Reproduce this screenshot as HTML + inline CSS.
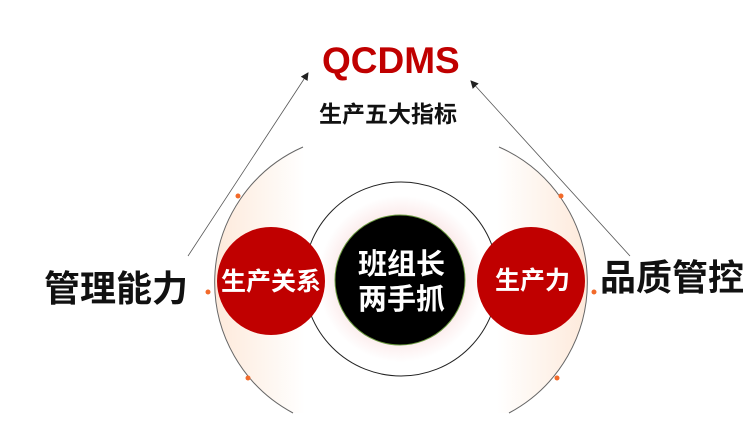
<!DOCTYPE html>
<html><head><meta charset="utf-8"><style>
body{margin:0;width:756px;height:439px;background:#fff;overflow:hidden;position:relative;font-family:"Liberation Sans","Noto Sans CJK SC",sans-serif}
.t{position:absolute;font-weight:bold;white-space:nowrap;line-height:1}
</style></head><body>
<svg width="756" height="439" style="position:absolute;left:0;top:0">
<defs>
<linearGradient id="gl" x1="209" y1="0" x2="305" y2="0" gradientUnits="userSpaceOnUse">
<stop offset="0" stop-color="#fde8d8"/><stop offset="1" stop-color="#fff"/></linearGradient>
<linearGradient id="gr" x1="593" y1="0" x2="497" y2="0" gradientUnits="userSpaceOnUse">
<stop offset="0" stop-color="#fde8d8"/><stop offset="1" stop-color="#fff"/></linearGradient>
<radialGradient id="gm" cx="401" cy="279" r="98" gradientUnits="userSpaceOnUse">
<stop offset="0.6" stop-color="#fbe7e7"/><stop offset="0.85" stop-color="#fff"/></radialGradient>
<marker id="a" markerWidth="8" markerHeight="8" refX="7" refY="4" orient="auto" markerUnits="userSpaceOnUse"><path d="M0,0L8,4L0,8z" fill="#222"/></marker>
</defs>
<path d="M303,147 A148,148 0 0 0 293,413 L330,413 L330,147Z" fill="url(#gl)"/>
<path d="M499,147 A148,148 0 0 1 509,413 L470,413 L470,147Z" fill="url(#gr)"/>
<path d="M303,147 A148,148 0 0 0 293,413" fill="none" stroke="#666" stroke-width="1"/>
<path d="M499,147 A148,148 0 0 1 509,413" fill="none" stroke="#666" stroke-width="1"/>
<circle cx="238" cy="196" r="2.5" fill="#f26a2a"/><circle cx="208" cy="292" r="2.5" fill="#f26a2a"/><circle cx="248" cy="378" r="2.5" fill="#f26a2a"/>
<circle cx="561" cy="196" r="2.5" fill="#f26a2a"/><circle cx="594" cy="292" r="2.5" fill="#f26a2a"/><circle cx="557" cy="378" r="2.5" fill="#f26a2a"/>
<line x1="188" y1="256" x2="308" y2="73" stroke="#555" stroke-width="0.8" marker-end="url(#a)"/>
<line x1="630" y1="256" x2="471" y2="81" stroke="#555" stroke-width="0.8" marker-end="url(#a)"/>
<circle cx="401" cy="279" r="97" fill="url(#gm)" stroke="#222" stroke-width="1"/>
<circle cx="400" cy="280" r="65" fill="#000" stroke="#6a9a40" stroke-width="1"/>
<circle cx="271" cy="281" r="54" fill="#c00000"/>
<circle cx="531" cy="281" r="54" fill="#c00000"/>
</svg>
<div class="t" style="left:322px;top:42px;font-size:37px;color:#c00000">QCDMS</div>
<div class="t" style="left:319px;top:103px;font-size:23px;color:#111">生产五大指标</div>
<div class="t" style="left:44px;top:271px;font-size:36px;color:#111">管理能力</div>
<div class="t" style="left:600px;top:260px;font-size:36px;color:#111">品质管控</div>
<div class="t" style="left:221px;top:270px;font-size:25px;color:#fff">生产关系</div>
<div class="t" style="left:495px;top:269px;font-size:25px;color:#fff">生产力</div>
<div class="t" style="left:358px;top:248px;font-size:29px;color:#fff;text-align:center;line-height:35px">班组长<br>两手抓</div>
</body></html>
